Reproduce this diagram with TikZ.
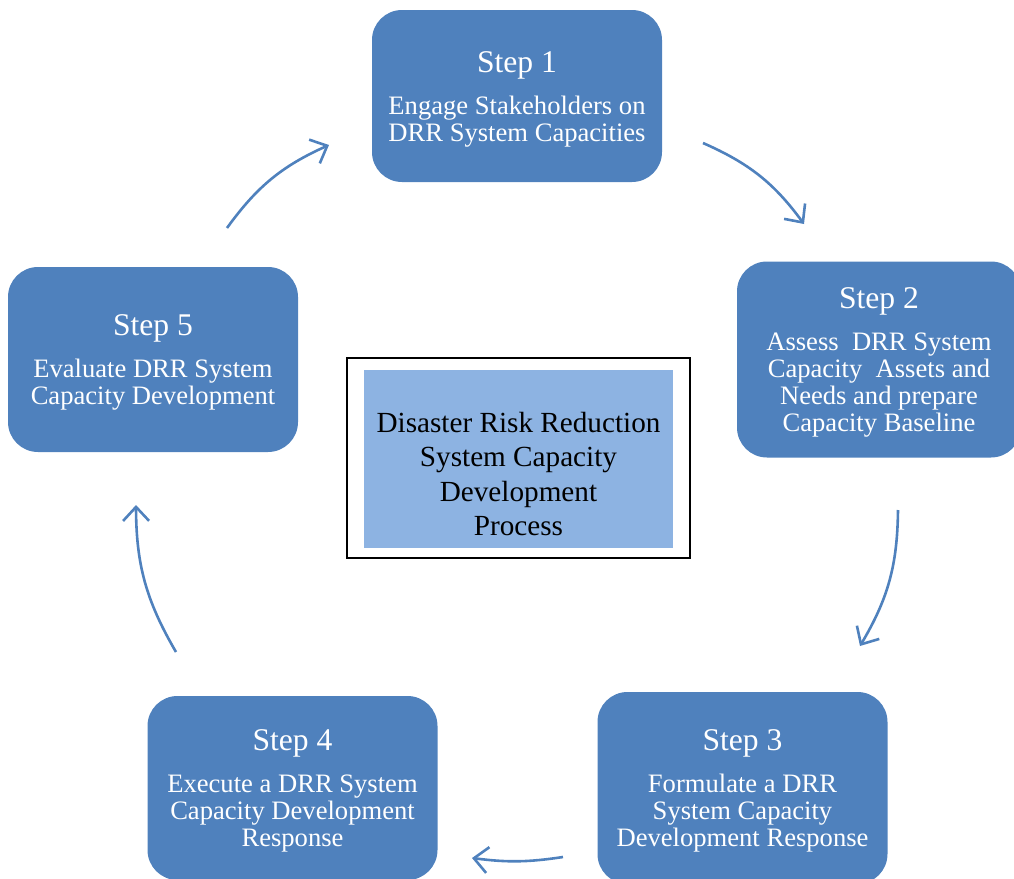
\documentclass[tikz,border=0pt]{standalone}
\usepackage{fontspec}
\setmainfont{Liberation Serif}
\usepackage{tikz}
\usetikzlibrary{positioning,arrows.meta}
\definecolor{CycBlue}{HTML}{4F81BD}
\definecolor{CycLightBlue}{HTML}{8DB3E2}
\newcommand{\stephead}[1]{{\fontsize{15.8}{18}\selectfont\rule{0pt}{13.5pt}#1}}

\begin{document}
\begin{tikzpicture}[x=0.5pt, y=-0.5pt,
  stepbox/.style={fill=CycBlue, rounded corners=15pt, text=white, align=center,
    minimum width=145pt, font=\fontsize{13.3}{13.5}\selectfont},
  cycarrow/.style={-{Straight Barb[length=7pt, width=13pt, line width=1.3pt]}, line width=1.3pt, CycBlue}]
  \useasboundingbox (0,0) rectangle (1014,879);
  % the five steps
  \node[stepbox, minimum height=86pt] (s1) at (517,96) {\stephead{Step 1}\\[7.5pt]Engage Stakeholders on\\DRR System Capacities};
  \node[stepbox, minimum height=98pt, minimum width=142pt] (s2) at (879,359.5) {\stephead{Step 2}\\[7.5pt]Assess\ \ DRR System\\Capacity\ \ Assets and\\Needs and prepare\\Capacity Baseline};
  \node[stepbox, minimum height=96pt] (s3) at (742.5,788) {\stephead{Step 3}\\[7.5pt]Formulate a DRR\\System Capacity\\Development Response};
  \node[stepbox, minimum height=92pt] (s4) at (292.5,788) {\stephead{Step 4}\\[7.5pt]Execute a DRR System\\Capacity Development\\Response};
  \node[stepbox, minimum height=92.5pt] (s5) at (153,359.5) {\stephead{Step 5}\\[7.5pt]Evaluate DRR System\\Capacity Development};
  % centre
  \node[draw=black, line width=1pt, minimum width=171.5pt, minimum height=100pt] (frame) at (518.5,458) {};
  \node[fill=CycLightBlue, minimum width=154.5pt, minimum height=89pt] (core) at (518.5,459) {};
  \node[align=center, font=\fontsize{14.6}{17.2}\selectfont] (title) at (518.5,474) {Disaster Risk Reduction\\System Capacity\\Development\\Process};
  % arrow ends
  \coordinate (a1) at (703,143);  \coordinate (b1) at (804,224);
  \coordinate (a2) at (898,510);  \coordinate (b2) at (860,646);
  \coordinate (a3) at (563,857);  \coordinate (b3) at (472,858);
  \coordinate (a4) at (176,652);  \coordinate (b4) at (136,505);
  \coordinate (a5) at (227,228);  \coordinate (b5) at (329,145);
  \draw[cycarrow] (a1) to[bend left=15] (b1);
  \draw[cycarrow] (a2) to[bend left=15] (b2);
  \draw[cycarrow] (a3) to[bend left=8] (b3);
  \draw[cycarrow] (a4) to[bend left=15] (b4);
  \draw[cycarrow] (a5) to[bend left=15] (b5);
\end{tikzpicture}
\end{document}
